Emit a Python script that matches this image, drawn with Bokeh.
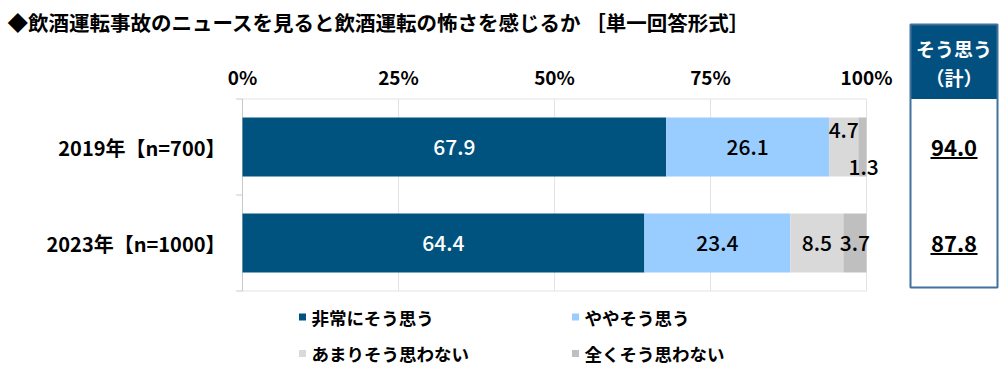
from bokeh.plotting import figure
from bokeh.models import Range1d
from bokeh.core.properties import value
from bokeh.embed import file_html
from bokeh.resources import INLINE

# ---------------- data ----------------
title_text = "◆飲酒運転事故のニュースを見ると飲酒運転の怖さを感じるか ［単一回答形式］"
categories = ["2019年【n=700】", "2023年【n=1000】"]
series_names = ["非常にそう思う", "ややそう思う", "あまりそう思わない", "全くそう思わない"]
very_much = [67.9, 64.4]
somewhat = [26.1, 23.4]
not_much = [4.7, 8.5]
not_at_all = [1.3, 3.7]
totals = [94.0, 87.8]
total_header = ["そう思う", "（計）"]
tick_values = [0, 25, 50, 75, 100]
tick_labels = ["0%", "25%", "50%", "75%", "100%"]

# ---------------- style / layout ----------------
FONT = "Noto Sans CJK JP"
FONT_MED = "'Noto Sans CJK JP Medium', 'Noto Sans CJK JP'"
colors = ["#00537F", "#99CCFF", "#D9D9D9", "#BFBFBF"]
text_colors = ["white", "black", "black", "black"]
W, H = 1000, 369
X0, SCALE = 242, 6.24          # canvas px of 0%, px per 1%
PLOT_TOP, ROW, BAR_H = 98.5, 96, 59
label_dy = {(0, 2): -17, (0, 3): 20}   # nudged labels for thin segments
label_dx = {(0, 3): 0.2}


def px2x(px):
    return (px - X0) / SCALE


p = figure(width=W, height=H, output_backend="svg", toolbar_location=None,
           x_range=Range1d(px2x(0), px2x(W)), y_range=Range1d(H, 0),
           min_border=0, outline_line_color=None)
p.axis.visible = False
p.grid.visible = False
p.background_fill_color = "white"
p.border_fill_color = "white"

n = len(categories)
centers = [PLOT_TOP + ROW * (i + 0.5) for i in range(n)]
plot_bottom = PLOT_TOP + ROW * n

# plot area frame & grid
GRID = "#E3E3E3"
p.segment(x0=[0, 100], y0=[PLOT_TOP, PLOT_TOP], x1=[100, 100], y1=[PLOT_TOP, plot_bottom],
          line_color=GRID, line_width=1)
p.segment(x0=[0], y0=[plot_bottom], x1=[100], y1=[plot_bottom], line_color=GRID, line_width=1)
p.segment(x0=tick_values[1:-1], y0=[PLOT_TOP] * 3, x1=tick_values[1:-1], y1=[plot_bottom] * 3,
          line_color=GRID, line_width=1)
p.segment(x0=[0], y0=[PLOT_TOP], x1=[0], y1=[plot_bottom], line_color="#C8C8C8", line_width=1)
tick_y = [PLOT_TOP + ROW * k for k in range(n + 1)]
p.segment(x0=[-1.0] * len(tick_y), y0=tick_y, x1=[0] * len(tick_y), y1=tick_y,
          line_color="#C8C8C8", line_width=1)

# stacked bars
series = [very_much, somewhat, not_much, not_at_all]
lefts = [0.0] * n
for s, vals in enumerate(series):
    rights = [l + v for l, v in zip(lefts, vals)]
    p.hbar(y=centers, left=lefts, right=rights, height=BAR_H, fill_color=colors[s],
           line_color=None)
    lx = [(l + r) / 2 + label_dx.get((i, s), 0) for i, (l, r) in enumerate(zip(lefts, rights))]
    ly = [c + label_dy.get((i, s), 0) for i, c in enumerate(centers)]
    p.text(x=lx, y=ly, text=[f"{v:.1f}" for v in vals], text_font=value(FONT_MED),
           text_font_size="21px", text_color=text_colors[s], text_align="center",
           text_baseline="middle")
    lefts = rights

# x tick labels
p.text(x=tick_values, y=[76] * len(tick_values), text=tick_labels, text_font=value(FONT),
       text_font_size="19px", text_font_style="bold", text_align="center",
       text_baseline="middle", text_color="black")

# category labels
p.text(x=[px2x(225)] * n, y=centers, text=categories, text_font=value(FONT),
       text_font_size="20px", text_font_style="bold", text_align="right",
       text_baseline="middle", text_color="black")

# title
p.text(x=[px2x(7)], y=[21], text=[title_text], text_font=value(FONT),
       text_font_size="20.5px", text_font_style="bold", text_align="left",
       text_baseline="middle", text_color="black")

# totals box
BX0, BX1, BY0, BHEAD, BY1 = 910, 997, 24, 98.5, 287
bxc = px2x((BX0 + BX1) / 2)
p.quad(left=[px2x(BX0)], right=[px2x(BX1)], top=[BY0], bottom=[BHEAD],
       fill_color="#02507F", line_color=None)
p.quad(left=[px2x(BX0)], right=[px2x(BX1)], top=[BY0], bottom=[BY1],
       fill_color=None, line_color="#41719C", line_width=2)
p.text(x=[bxc, bxc], y=[48, 77], text=total_header, text_font=value(FONT),
       text_font_size="19px", text_font_style="bold", text_align="center",
       text_baseline="middle", text_color="white")
p.text(x=[bxc] * n, y=centers, text=[f"{t:.1f}" for t in totals], text_font=value(FONT),
       text_font_size="22px", text_font_style="bold", text_align="center",
       text_baseline="middle", text_color="black")
uw = 23.5 / SCALE
p.segment(x0=[bxc - uw] * n, y0=[c + 11 for c in centers], x1=[bxc + uw] * n,
          y1=[c + 11 for c in centers], line_color="black", line_width=2)

# legend
leg_x = [302, 575, 302, 575]
leg_y = [316.5, 316.5, 353, 353]
p.scatter(x=[px2x(v) for v in leg_x], y=leg_y, marker="square", size=7,
          fill_color=colors, line_color=None)
p.text(x=[px2x(v + 9) for v in leg_x], y=leg_y, text=series_names, text_font=value(FONT),
       text_font_size="17.5px", text_font_style="bold", text_align="left",
       text_baseline="middle", text_color="black")

open("out.html", "w").write(file_html(p, INLINE))
